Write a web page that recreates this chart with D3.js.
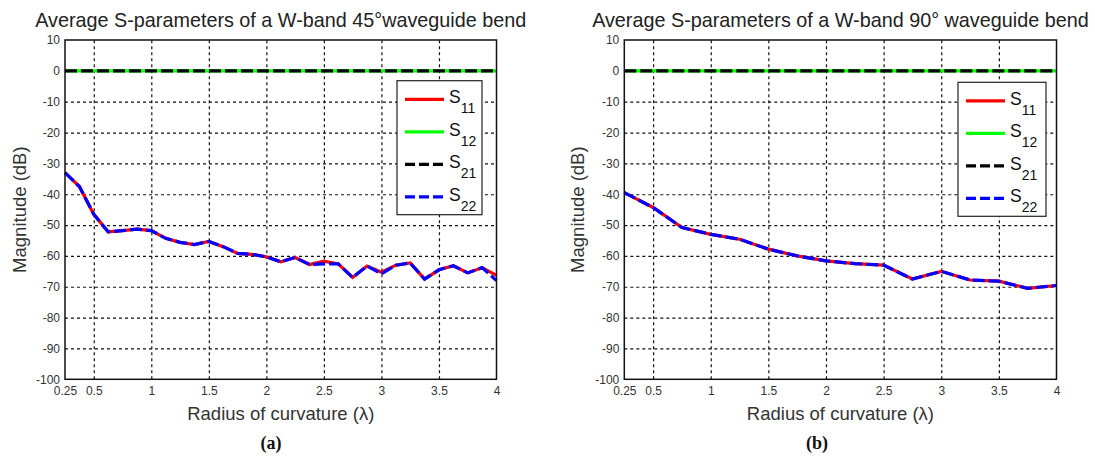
<!DOCTYPE html>
<html>
<head>
<meta charset="utf-8">
<script src="https://cdn.jsdelivr.net/npm/d3@7"></script>
<style>
  body { margin: 0; background: #fff; }
  svg text { font-family: "Liberation Sans", Arial, sans-serif; }
  .grid line { stroke: #111; stroke-dasharray: 3,3; stroke-width: 1.2; }
  .grid path { display: none; }
  .tick-lbl text { fill: #333; font-size: 12px; }
  .tick-lbl path, .tick-lbl line { display: none; }
</style>
</head>
<body>
<svg id="chart" width="1095" height="460"></svg>
<script>
// radius of curvature samples (lambda)
const radius45 = [0.25, 0.375, 0.5, 0.625, 0.75, 0.875, 1, 1.125, 1.25, 1.375, 1.5, 1.625, 1.75, 1.875, 2,
  2.125, 2.25, 2.375, 2.5, 2.625, 2.75, 2.875, 3, 3.125, 3.25, 3.375, 3.5, 3.625, 3.75, 3.875, 4];
const s11_45 = [-33, -37.5, -46.5, -52.2, -51.8, -51.3, -51.8, -54.3, -55.6, -56.3, -55.3, -57, -59.2, -59.5, -60.3,
  -61.9, -60.5, -62.8, -61.7, -62.6, -67, -63.3, -65.3, -63, -62.3, -67.5, -64.5, -63.2, -65.5, -63.8, -66.3];
const s22_45 = [-33, -37.5, -46.5, -52.2, -51.8, -51.3, -51.8, -54.3, -55.6, -56.3, -55.3, -57, -59.2, -59.5, -60.3,
  -61.9, -60.5, -62.8, -62.6, -62.6, -67, -63.3, -65.8, -63, -62.3, -67.5, -64.5, -63.2, -65.5, -63.8, -68];
const s12_45 = radius45.map(() => 0);
const s21_45 = radius45.map(() => 0);

const radius90 = [0.25, 0.5, 0.75, 1, 1.25, 1.5, 1.75, 2, 2.25, 2.5, 2.75, 3, 3.25, 3.5, 3.75, 4];
const s11_90 = [-39.5, -44.3, -50.8, -53, -54.6, -57.8, -60, -61.6, -62.5, -63, -67.5, -65, -67.8, -68.2, -70.5, -69.6];
const s22_90 = [-39.5, -44.3, -50.8, -53, -54.6, -57.8, -60, -61.6, -62.5, -63, -67.5, -65, -67.8, -68.2, -70.5, -69.6];
const s12_90 = radius90.map(() => 0);
const s21_90 = radius90.map(() => 0);

const xTicks = [0.25, 0.5, 1, 1.5, 2, 2.5, 3, 3.5, 4];
const yTicks = [-100, -90, -80, -70, -60, -50, -40, -30, -20, -10, 0, 10];
const seriesNames = ['11', '12', '21', '22'];
const seriesColors = ['#ff0000', '#00ff00', '#000000', '#0000ff'];
const seriesDash = [null, null, '12,4', '12,4'];

const svg = d3.select('#chart');

function drawPanel(p) {
  const w = p.right - p.left, h = p.bottom - p.top;
  const x = d3.scaleLinear().domain([0.25, 4]).range([0, w]);
  const y = d3.scaleLinear().domain([-100, 10]).range([h, 0]);
  const g = svg.append('g').attr('transform', `translate(${p.left},${p.top})`);

  // title
  g.append('text')
    .attr('x', w / 2).attr('y', -13)
    .attr('text-anchor', 'middle')
    .style('font-size', '19.8px').style('fill', '#222')
    .text(p.title);

  // dashed grid
  g.append('g').attr('class', 'grid')
    .attr('transform', `translate(0,${h})`)
    .call(d3.axisBottom(x).tickValues(xTicks.slice(1, -1)).tickSize(-h).tickFormat(''));
  g.append('g').attr('class', 'grid')
    .call(d3.axisLeft(y).tickValues(yTicks.slice(1, -1)).tickSize(-w).tickFormat(''));

  // tick labels
  g.append('g').attr('class', 'tick-lbl')
    .attr('transform', `translate(0,${h})`)
    .call(d3.axisBottom(x).tickValues(xTicks).tickSize(0).tickPadding(7).tickFormat(d => d));
  g.append('g').attr('class', 'tick-lbl')
    .call(d3.axisLeft(y).tickValues(yTicks).tickSize(0).tickPadding(5).tickFormat(d => d));

  // curves
  const line = d3.line().x(d => x(d[0])).y(d => y(d[1]));
  p.series.forEach((vals, i) => {
    g.append('path')
      .datum(p.radius.map((r, k) => [r, vals[k]]))
      .attr('d', line)
      .attr('fill', 'none')
      .attr('stroke', seriesColors[i])
      .attr('stroke-width', 3.2)
      .attr('stroke-dasharray', seriesDash[i]);
  });

  // frame
  g.append('rect')
    .attr('width', w).attr('height', h)
    .attr('fill', 'none').attr('stroke', '#111').attr('stroke-width', 1.5);

  // axis labels
  g.append('text')
    .attr('x', w / 2).attr('y', h + 41)
    .attr('text-anchor', 'middle')
    .style('font-size', '18.5px').style('fill', '#333')
    .text('Radius of curvature (λ)');
  g.append('text')
    .attr('transform', `translate(${-p.left + p.ylabX},${h / 2}) rotate(-90)`)
    .attr('text-anchor', 'middle')
    .style('font-size', '18.5px').style('fill', '#333')
    .text('Magnitude (dB)');

  // legend
  const lg = g.append('g').attr('transform', `translate(${w - p.legRight - p.legW},${p.legTop})`);
  lg.append('rect')
    .attr('width', p.legW).attr('height', 134)
    .attr('fill', '#fff').attr('stroke', '#222').attr('stroke-width', 1.2);
  seriesNames.forEach((n, i) => {
    const yy = 18.6 + i * 32.5;
    lg.append('line')
      .attr('x1', 8).attr('x2', 47).attr('y1', yy).attr('y2', yy)
      .attr('stroke', seriesColors[i]).attr('stroke-width', 3.3)
      .attr('stroke-dasharray', seriesDash[i] ? '10,4' : null);
    const t = lg.append('text')
      .attr('x', 52).attr('y', yy + 4)
      .style('font-size', '17.5px').style('fill', '#111');
    t.append('tspan').text('S');
    t.append('tspan').attr('dy', 10).style('font-size', '14px').text(n);
  });

  // panel caption
  svg.append('text')
    .attr('x', p.capX).attr('y', 449)
    .attr('text-anchor', 'middle')
    .style('font-family', '"Liberation Serif", "Times New Roman", serif')
    .style('font-weight', 'bold').style('font-size', '18px').style('fill', '#111')
    .text(p.caption);
}

drawPanel({
  left: 65, right: 496.5, top: 40, bottom: 379.3,
  title: 'Average S-parameters of a W-band 45°waveguide bend',
  radius: radius45, series: [s11_45, s12_45, s21_45, s22_45],
  legW: 85, legRight: 14.5, legTop: 40.7,
  ylabX: 26, capX: 271, caption: '(a)'
});
drawPanel({
  left: 624.3, right: 1056.5, top: 40, bottom: 379.3,
  title: 'Average S-parameters of a W-band 90° waveguide bend',
  radius: radius90, series: [s11_90, s12_90, s21_90, s22_90],
  legW: 88, legRight: 10.5, legTop: 42.3,
  ylabX: 584, capX: 817, caption: '(b)'
});
</script>
</body>
</html>
